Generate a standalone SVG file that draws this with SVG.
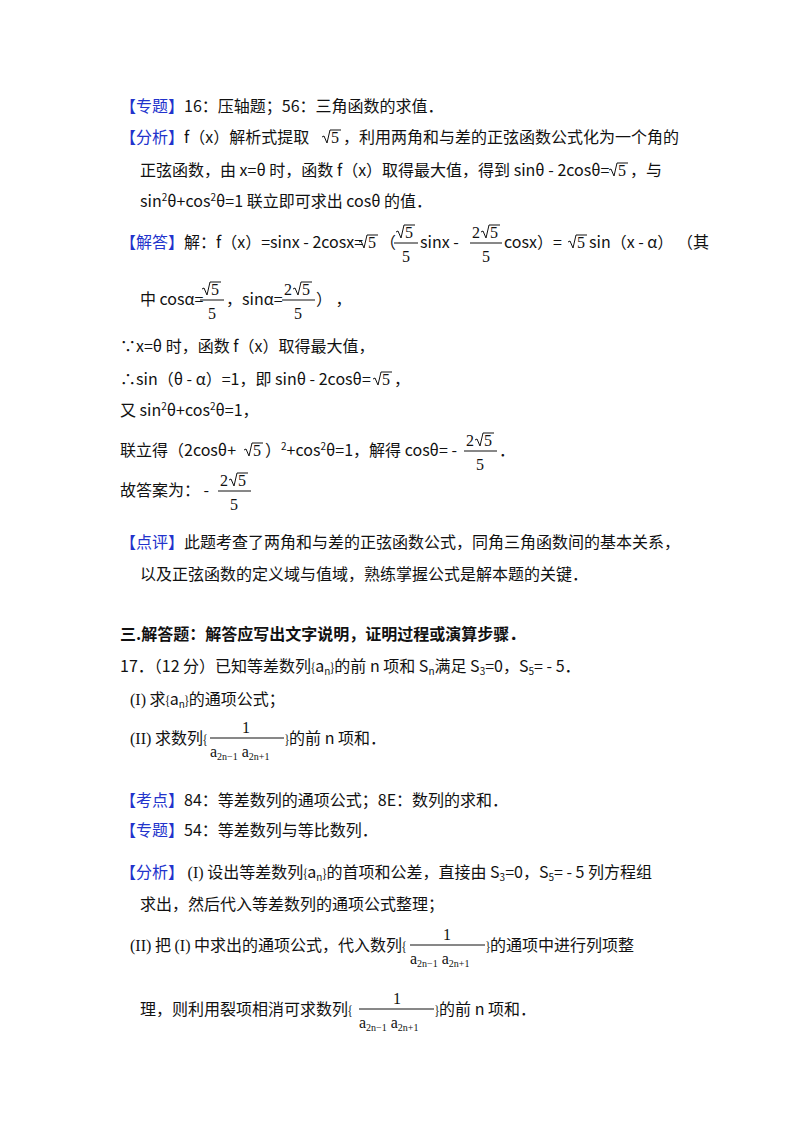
<svg xmlns="http://www.w3.org/2000/svg" width="800" height="1132" viewBox="0 0 800 1132">
<style>
text{font-family:"Noto Sans CJK SC","Noto Sans",sans-serif;font-size:16px;fill:#111}
.b{fill:#2233cc}
.m{font-family:"Liberation Serif","DejaVu Serif",serif;font-size:16px}
.s{font-size:10px}
.bold{font-weight:bold}
line{stroke:#111;stroke-width:1}
.rad{fill:none;stroke:#111;stroke-width:1}
</style>
<defs><polyline id="r" class="rad" points="0,-6 2,-7 5,0 8,-13 19,-13"/></defs>
<rect width="800" height="1132" fill="#fff"/>
<g id="text">
<text x="120" y="112"><tspan class="b">【专题】</tspan>16：压轴题；56：三角函数的求值．</text>
<text x="120" y="143"><tspan class="b">【分析】</tspan>f（x）解析式提取</text>
<use href="#r" x="322" y="143"/><text class="m" x="331" y="143">5</text>
<text x="343" y="143">，利用两角和与差的正弦函数公式化为一个角的</text>
<text x="140" y="176">正弦函数，由 x=θ 时，函数 f（x）取得最大值，得到 sinθ - 2cosθ=</text>
<use href="#r" x="609" y="176"/><text class="m" x="618" y="176">5</text>
<text x="630" y="176">，与</text>
<text x="140" y="207">sin<tspan class="s" dy="-6">2</tspan><tspan dy="6">θ+cos</tspan><tspan class="s" dy="-6">2</tspan><tspan dy="6">θ=1 联立即可求出 cosθ 的值．</tspan></text>

<text x="120" y="248"><tspan class="b">【解答】</tspan>解：f（x）=sinx - 2cosx=</text>
<use href="#r" x="359" y="248"/><text class="m" x="368" y="248">5</text>
<text x="380" y="248">（</text>
<use href="#r" x="396" y="238"/><text class="m" x="405" y="238">5</text><line x1="394" y1="243" x2="418" y2="243"/><text class="m" x="402" y="262">5</text>
<text x="420" y="248">sinx -</text>
<text class="m" x="472" y="238">2</text><use href="#r" x="481" y="238"/><text class="m" x="490" y="238">5</text><line x1="470" y1="243" x2="502" y2="243"/><text class="m" x="482" y="262">5</text>
<text x="504" y="248">cosx）=</text>
<use href="#r" x="568" y="248"/><text class="m" x="577" y="248">5</text>
<text x="589" y="248">sin（x - α）  （其</text>

<text x="140" y="305">中 cosα=</text>
<use href="#r" x="202" y="295"/><text class="m" x="211" y="295">5</text><line x1="200" y1="300" x2="224" y2="300"/><text class="m" x="208" y="319">5</text>
<text x="226" y="305">，sinα=</text>
<text class="m" x="284" y="295">2</text><use href="#r" x="293" y="295"/><text class="m" x="302" y="295">5</text><line x1="282" y1="300" x2="315" y2="300"/><text class="m" x="294" y="319">5</text>
<text x="316" y="305">）  ，</text>

<text x="120" y="352">∵x=θ 时，函数 f（x）取得最大值，</text>
<text x="120" y="385">∴sin（θ - α）=1，即 sinθ - 2cosθ=</text>
<use href="#r" x="373" y="385"/><text class="m" x="382" y="385">5</text>
<text x="394" y="385">，</text>
<text x="120" y="416">又 sin<tspan class="s" dy="-6">2</tspan><tspan dy="6">θ+cos</tspan><tspan class="s" dy="-6">2</tspan><tspan dy="6">θ=1，</tspan></text>
<text x="120" y="456">联立得（2cosθ+</text>
<use href="#r" x="244" y="456"/><text class="m" x="253" y="456">5</text>
<text x="265" y="456">）<tspan class="s" dy="-6">2</tspan><tspan dy="6">+cos</tspan><tspan class="s" dy="-6">2</tspan><tspan dy="6">θ=1，解得 cosθ= -</tspan></text>
<text class="m" x="466" y="446">2</text><use href="#r" x="475" y="446"/><text class="m" x="484" y="446">5</text><line x1="464" y1="451" x2="497" y2="451"/><text class="m" x="476" y="470">5</text>
<text x="499" y="456">．</text>

<text x="120" y="496">故答案为： -</text>
<text class="m" x="220" y="486">2</text><use href="#r" x="229" y="486"/><text class="m" x="238" y="486">5</text><line x1="218" y1="491" x2="251" y2="491"/><text class="m" x="230" y="510">5</text>

<text x="120" y="548"><tspan class="b">【点评】</tspan>此题考查了两角和与差的正弦函数公式，同角三角函数间的基本关系，</text>
<text x="140" y="580">以及正弦函数的定义域与值域，熟练掌握公式是解本题的关键．</text>

<text class="bold" x="120" y="640">三.解答题：解答应写出文字说明，证明过程或演算步骤．</text>
<text x="120" y="672">17．（12 分）已知等差数列<tspan font-size="12">{</tspan>a<tspan class="s" dy="3">n</tspan><tspan font-size="12" dy="-3">}</tspan>的前 n 项和 S<tspan class="s" dy="3">n</tspan><tspan dy="-3">满足 S</tspan><tspan class="s" dy="3">3</tspan><tspan dy="-3">=0，S</tspan><tspan class="s" dy="3">5</tspan><tspan dy="-3">= - 5．</tspan></text>
<text x="130" y="705"><tspan class="m">(I)</tspan> 求<tspan font-size="12">{</tspan>a<tspan class="s" dy="3">n</tspan><tspan font-size="12" dy="-3">}</tspan>的通项公式；</text>
<text x="130" y="744"><tspan class="m">(II)</tspan> 求数列<tspan font-size="12">{</tspan></text>
<text class="m" x="242" y="733">1</text><line x1="210" y1="738" x2="284" y2="738"/>
<text class="m" x="210" y="757" font-size="13">a<tspan font-size="10" dy="3">2n−1</tspan><tspan dy="-3"> a</tspan><tspan font-size="10" dy="3">2n+1</tspan></text>
<text x="285" y="744"><tspan font-size="12">}</tspan>的前 n 项和．</text>

<text x="120" y="806"><tspan class="b">【考点】</tspan>84：等差数列的通项公式；8E：数列的求和．</text>
<text x="120" y="836"><tspan class="b">【专题】</tspan>54：等差数列与等比数列．</text>
<text x="120" y="878"><tspan class="b">【分析】</tspan> <tspan class="m">(I)</tspan> 设出等差数列<tspan font-size="12">{</tspan>a<tspan class="s" dy="3">n</tspan><tspan font-size="12" dy="-3">}</tspan>的首项和公差，直接由 S<tspan class="s" dy="3">3</tspan><tspan dy="-3">=0，S</tspan><tspan class="s" dy="3">5</tspan><tspan dy="-3">= - 5 列方程组</tspan></text>
<text x="140" y="910">求出，然后代入等差数列的通项公式整理；</text>
<text x="130" y="951"><tspan class="m">(II)</tspan> 把 <tspan class="m">(I)</tspan> 中求出的通项公式，代入数列<tspan font-size="12">{</tspan></text>
<text class="m" x="443" y="940">1</text><line x1="410" y1="945" x2="485" y2="945"/>
<text class="m" x="410" y="964" font-size="13">a<tspan font-size="10" dy="3">2n−1</tspan><tspan dy="-3"> a</tspan><tspan font-size="10" dy="3">2n+1</tspan></text>
<text x="486" y="951"><tspan font-size="12">}</tspan>的通项中进行列项整</text>
<text x="140" y="1015">理，则利用裂项相消可求数列<tspan font-size="12">{</tspan></text>
<text class="m" x="393" y="1004">1</text><line x1="359" y1="1009" x2="434" y2="1009"/>
<text class="m" x="359" y="1028" font-size="13">a<tspan font-size="10" dy="3">2n−1</tspan><tspan dy="-3"> a</tspan><tspan font-size="10" dy="3">2n+1</tspan></text>
<text x="435" y="1015"><tspan font-size="12">}</tspan>的前 n 项和．</text>
</g>
</svg>
